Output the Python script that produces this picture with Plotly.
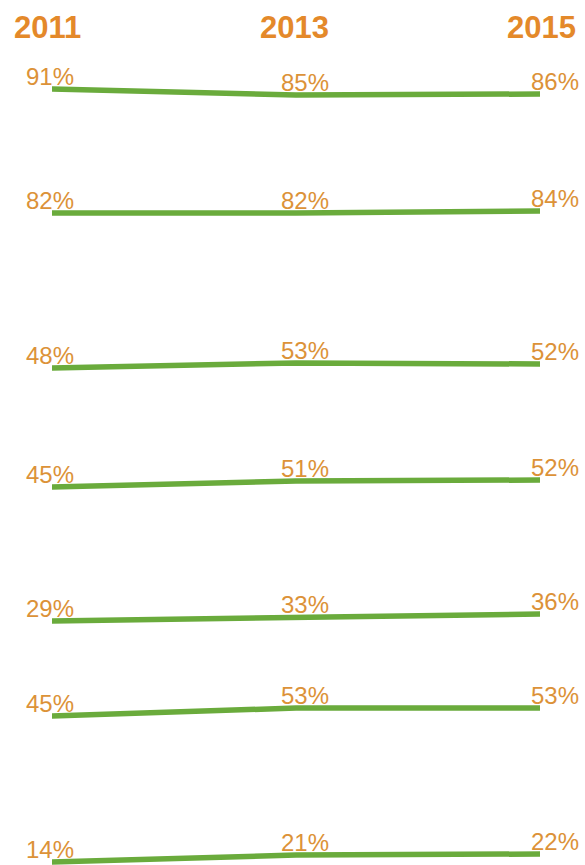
import plotly.graph_objects as go

years = [2011, 2013, 2015]
series = [
    [91, 85, 86],
    [82, 82, 84],
    [48, 53, 52],
    [45, 51, 52],
    [29, 33, 36],
    [45, 53, 53],
    [14, 21, 22],
]
year_labels = ["2011", "2013", "2015"]

W, H = 585, 865
# pixel position of each row's first point (layout only)
row_px = [89, 213, 368, 487, 621, 716, 862]
HALF = 40

LINE_COLOR = "#6aab3c"
LABEL_COLOR = "#dc9238"
YEAR_COLOR = "#e4892a"

fig = go.Figure()
layout_axes = {}
annotations = []
label_xshift = [-2, 9, 15]

for i, vals in enumerate(series):
    k = i + 1
    yname = "y" if k == 1 else f"y{k}"
    fig.add_trace(go.Scatter(
        x=years, y=vals, mode="lines",
        line=dict(color=LINE_COLOR, width=5.5),
        xaxis="x", yaxis=yname, hoverinfo="skip", showlegend=False,
        cliponaxis=False,
    ))
    ref_v = vals[0]
    top_px = max(row_px[i] - HALF, 0)
    bot_px = min(row_px[i] + HALF, H)
    hi = ref_v + (row_px[i] - top_px)
    lo = ref_v - (bot_px - row_px[i])
    layout_axes["yaxis" if k == 1 else f"yaxis{k}"] = dict(
        domain=[1 - bot_px / H, 1 - top_px / H], range=[lo, hi],
        visible=False, anchor="x", fixedrange=True,
    )
    for j, v in enumerate(vals):
        annotations.append(dict(
            x=years[j], y=v, xref="x", yref=yname,
            text=f"{v}%", showarrow=False,
            xanchor="center", yanchor="bottom",
            xshift=label_xshift[j], yshift=-3,
            font=dict(family="Liberation Sans, Arial", size=24, color=LABEL_COLOR),
        ))

year_xshift = [-5, -2, 1]
for j, lab in enumerate(year_labels):
    annotations.append(dict(
        x=years[j], y=1 - 28 / H, xref="x", yref="paper",
        text=f"<b>{lab}</b>", showarrow=False,
        xanchor="center", yanchor="middle", xshift=year_xshift[j],
        font=dict(family="Liberation Sans, Arial", size=31, color=YEAR_COLOR),
    ))

fig.update_layout(
    width=W, height=H,
    margin=dict(l=52, r=45, t=0, b=0),
    paper_bgcolor="white", plot_bgcolor="white",
    xaxis=dict(range=[2011, 2015], visible=False, fixedrange=True),
    annotations=annotations,
    **layout_axes,
)

fig.write_html(
    "out.html",
    config={"displayModeBar": False, "staticPlot": True},
    post_script=(
        "document.body.style.margin='0';document.body.style.padding='0';"
        "document.querySelectorAll('.scatterlayer path.js-line').forEach("
        "function(p){p.style.strokeLinecap='round';});"
    ),
)
